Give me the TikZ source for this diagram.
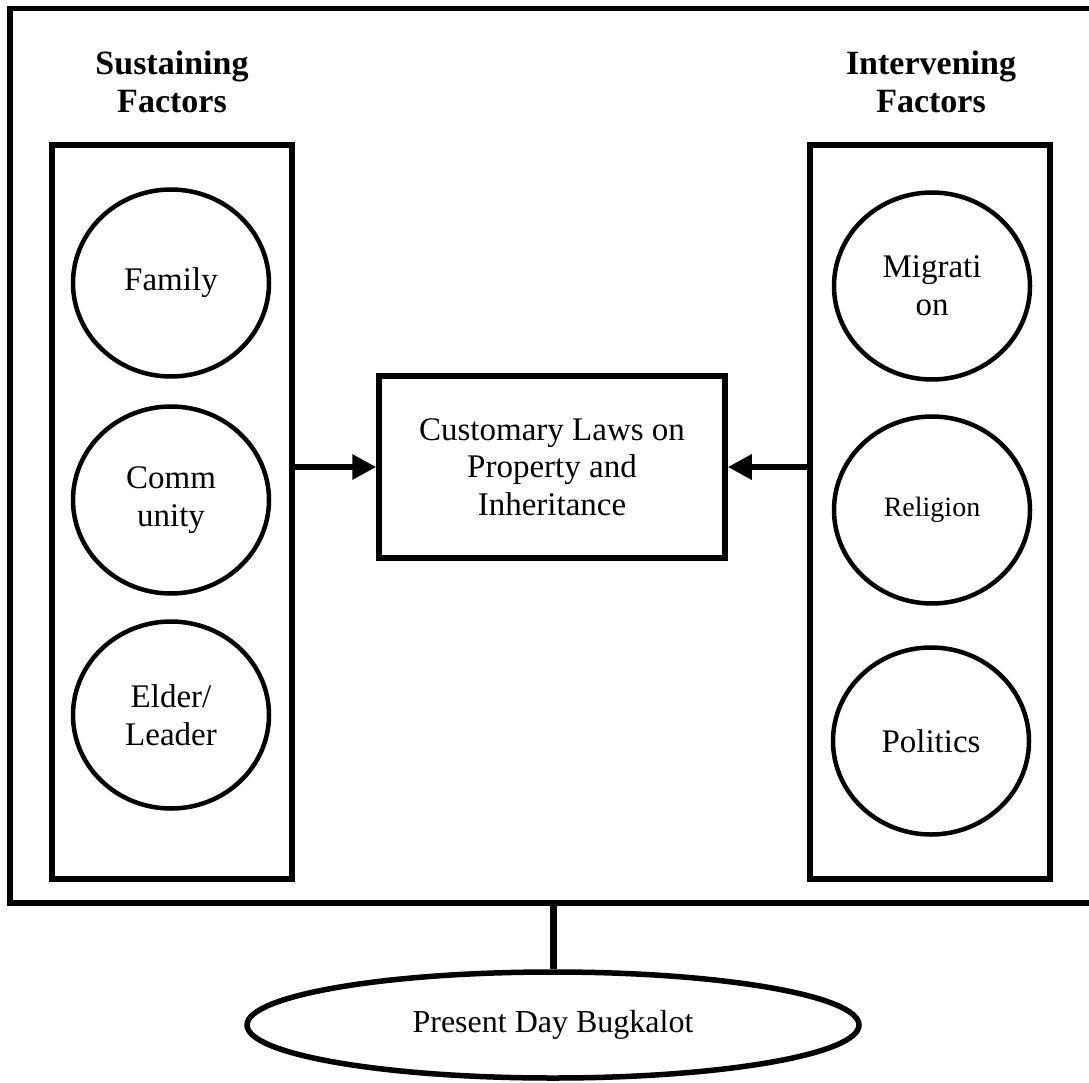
\documentclass[tikz,border=0pt]{standalone}
\usepackage{fontspec}
\setmainfont{Liberation Serif}
\usetikzlibrary{arrows.meta,shapes.geometric}
\begin{document}
\begin{tikzpicture}[x=1pt,y=-1pt,
  frameline/.style={line width=5.5pt},
  panel/.style={draw,line width=5.5pt,minimum width=240pt,minimum height=734pt,inner sep=0pt},
  factor/.style={draw,ellipse,line width=4.5pt,minimum width=196pt,minimum height=187pt,inner sep=0pt,align=center,font=\fontsize{33}{38}\selectfont},
  header/.style={align=center,font=\bfseries\fontsize{34}{38}\selectfont},
  centerbox/.style={draw,line width=5.5pt,minimum width=346pt,minimum height=182pt,inner sep=0pt,align=center,font=\fontsize{33}{37.5}\selectfont},
  result/.style={draw,ellipse,line width=5.5pt,minimum width=612pt,minimum height=106pt,inner sep=0pt,font=\fontsize{32}{37}\selectfont},
  link/.style={line width=6.5pt,-{Triangle[length=24pt,width=24pt]}},
  stem/.style={line width=7pt}]
\useasboundingbox (0,0) rectangle (1089,1083);
\fill[white] (0,0) rectangle (1089,1083);
% outer frame (right side runs off the page)
\coordinate (ftr) at (1089,8.5);
\coordinate (ftl) at (10,8.5);
\coordinate (fbl) at (10,903);
\coordinate (fbr) at (1089,903);
\draw[frameline] (ftr) -- (ftl) -- (fbl) -- (fbr);
% headers
\node[header] (hleft) at (172,82) {Sustaining\\Factors};
\node[header] (hright) at (931,82) {Intervening\\Factors};
% panels
\node[panel] (lpanel) at (172,512) {};
\node[panel] (rpanel) at (930,512) {};
% sustaining factors
\node[factor] (family) at (171,283) {Family};
\node[factor] (community) at (171,500) {Comm\\unity};
\node[factor] (elder) at (171,715) {Elder/\\Leader};
% intervening factors
\node[factor] (migration) at (932,286) {Migrati\\on};
\node[factor,font=\fontsize{28}{33}\selectfont] (religion) at (932,510) {Religion};
\node[factor] (politics) at (931,741) {Politics};
% central box
\node[centerbox] (laws) at (552,467) {Customary Laws on\\Property and\\Inheritance};
\draw[link] (lpanel.east |- laws.west) -- (laws.west);
\draw[link] (rpanel.west |- laws.east) -- (laws.east);
% result
\node[result] (present) at (553,1025) {Present Day Bugkalot};
\coordinate (stemtop) at (553,903);
\draw[stem] (stemtop) -- (present.north);
\end{tikzpicture}
\end{document}
